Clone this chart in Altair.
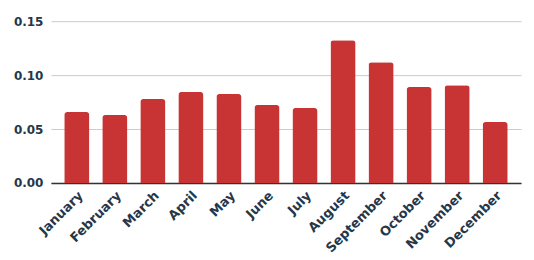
import altair as alt
import pandas as pd

months = ["January", "February", "March", "April", "May", "June",
          "July", "August", "September", "October", "November", "December"]
values = [0.0657, 0.0630, 0.0778, 0.0843, 0.0824, 0.0722,
          0.0694, 0.1324, 0.1120, 0.0889, 0.0907, 0.0565]

df = pd.DataFrame({"month": months, "value": values})

text_color = "#253748"

chart = alt.Chart(df).mark_bar(
    color="#c83434", cornerRadiusTopLeft=3, cornerRadiusTopRight=3
).encode(
    x=alt.X("month:N", sort=months, title=None,
            scale=alt.Scale(paddingInner=0.34, paddingOuter=0.35),
            axis=alt.Axis(labelAngle=-45, labelAlign="right", labelBaseline="top",
                          ticks=False, domainColor="#333333", domainWidth=1.5,
                          labelPadding=6, labelFontSize=13)),
    y=alt.Y("value:Q", title=None,
            scale=alt.Scale(domain=[0, 0.15]),
            axis=alt.Axis(values=[0, 0.05, 0.1, 0.15], format=".2f",
                          ticks=False, domain=False, labelPadding=8,
                          gridColor="#cccccc", labelFontSize=12)),
).properties(
    width=471, height=162,
    padding={"left": 5, "top": 7, "right": 5, "bottom": 5}
).configure_axis(
    labelFont="DejaVu Sans", labelFontWeight="bold",
    labelColor=text_color
).configure_view(stroke=None)

chart.save("out.html", embed_options={"renderer": "svg", "actions": False})
